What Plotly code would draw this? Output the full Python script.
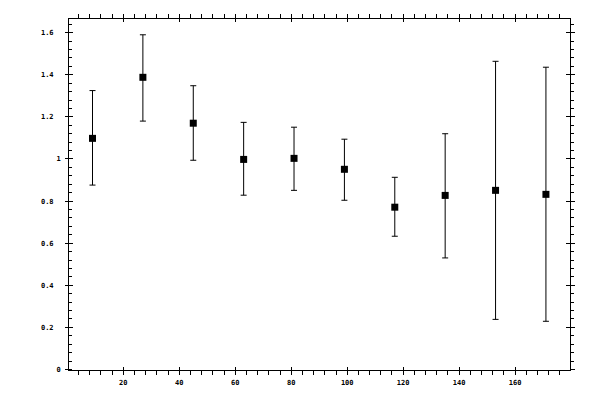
import plotly.graph_objects as go

x_bins = [9, 27, 45, 63, 81, 99, 117, 135, 153, 171]
y_vals = [1.098, 1.388, 1.170, 0.998, 1.003, 0.951, 0.771, 0.827, 0.851, 0.832]
y_upper = [1.325, 1.590, 1.348, 1.174, 1.151, 1.094, 0.913, 1.120, 1.464, 1.436]
y_lower = [0.876, 1.180, 0.994, 0.828, 0.851, 0.804, 0.633, 0.530, 0.238, 0.229]

y_dec_ticks = [0.2, 0.4, 0.6, 0.8, 1.2, 1.4, 1.6]
y_int_ticks = [0, 1]
x_ticks = [20, 40, 60, 80, 100, 120, 140, 160]

err_plus = [u - v for u, v in zip(y_upper, y_vals)]
err_minus = [v - l for v, l in zip(y_vals, y_lower)]

xr = [0.6, 179.6]
yr = [-0.0024, 1.665]
tfont = dict(family="DejaVu Sans Mono", size=7, color="black", weight="bold")

fig = go.Figure()
fig.add_trace(go.Scatter(
    x=x_bins, y=y_vals, mode="markers",
    marker=dict(symbol="square", size=7, color="black"),
    error_y=dict(type="data", symmetric=False, array=err_plus,
                 arrayminus=err_minus, color="black", thickness=1, width=3),
    showlegend=False, hoverinfo="skip",
))
# empty traces so the overlay axes get drawn
for xa, ya in [("x2", "y"), ("x", "y2"), ("x", "y3"), ("x", "y4")]:
    fig.add_trace(go.Scatter(x=[None], y=[None], xaxis=xa, yaxis=ya,
                             mode="markers", showlegend=False, hoverinfo="skip"))

# page body adds ~8px offset, so margins are trimmed by that
fig.update_layout(
    width=600, height=400,
    margin=dict(l=61, r=38, t=11, b=38),
    paper_bgcolor="white", plot_bgcolor="white",
    showlegend=False,
    xaxis=dict(
        range=xr, showgrid=False, zeroline=False, automargin=False,
        showline=True, linecolor="black", linewidth=1, mirror="allticks",
        tickmode="array", tickvals=x_ticks,
        ticks="outside", ticklen=4, tickwidth=1, tickcolor="black",
        minor=dict(ticks="outside", ticklen=3, tickwidth=1, tickcolor="black",
                   dtick=4, tick0=0, showgrid=False),
        tickfont=tfont, ticklabelstandoff=2,
    ),
    xaxis2=dict(
        range=xr, overlaying="x", anchor="y", showgrid=False, zeroline=False,
        automargin=False,
        showline=False, mirror="allticks", tickmode="array", tickvals=x_ticks,
        ticks="inside", ticklen=3, tickwidth=1, tickcolor="black",
        showticklabels=False,
    ),
    yaxis=dict(
        range=yr, showgrid=False, zeroline=False, automargin=False,
        showline=True, linecolor="black", linewidth=1,
        tickmode="array", tickvals=y_dec_ticks,
        ticks="outside", ticklen=3, tickwidth=1, tickcolor="black",
        minor=dict(ticks="inside", ticklen=3, tickwidth=1, tickcolor="black",
                   dtick=0.04, tick0=0, showgrid=False),
        tickfont=tfont, ticklabelstandoff=10,
    ),
    yaxis2=dict(
        range=yr, overlaying="y", side="right", anchor="x",
        showgrid=False, zeroline=False, automargin=False,
        showline=True, linecolor="black", linewidth=1,
        tickmode="array", tickvals=y_dec_ticks + y_int_ticks,
        ticks="outside", ticklen=4, tickwidth=1, tickcolor="black",
        minor=dict(ticks="outside", ticklen=3, tickwidth=1, tickcolor="black",
                   dtick=0.04, tick0=0, showgrid=False),
        showticklabels=False,
    ),
    yaxis3=dict(
        range=yr, overlaying="y", side="left", anchor="x",
        showgrid=False, zeroline=False, showline=False, mirror="allticks",
        automargin=False,
        tickmode="array", tickvals=y_dec_ticks + y_int_ticks,
        ticks="inside", ticklen=4, tickwidth=1, tickcolor="black",
        showticklabels=False,
    ),
    yaxis4=dict(
        range=yr, overlaying="y", side="left", anchor="x",
        showgrid=False, zeroline=False, showline=False, automargin=False,
        tickmode="array", tickvals=y_int_ticks,
        ticks="outside", ticklen=3, tickwidth=1, tickcolor="black",
        tickfont=tfont, ticklabelstandoff=3,
    ),
)

fig.write_html("out.html")
